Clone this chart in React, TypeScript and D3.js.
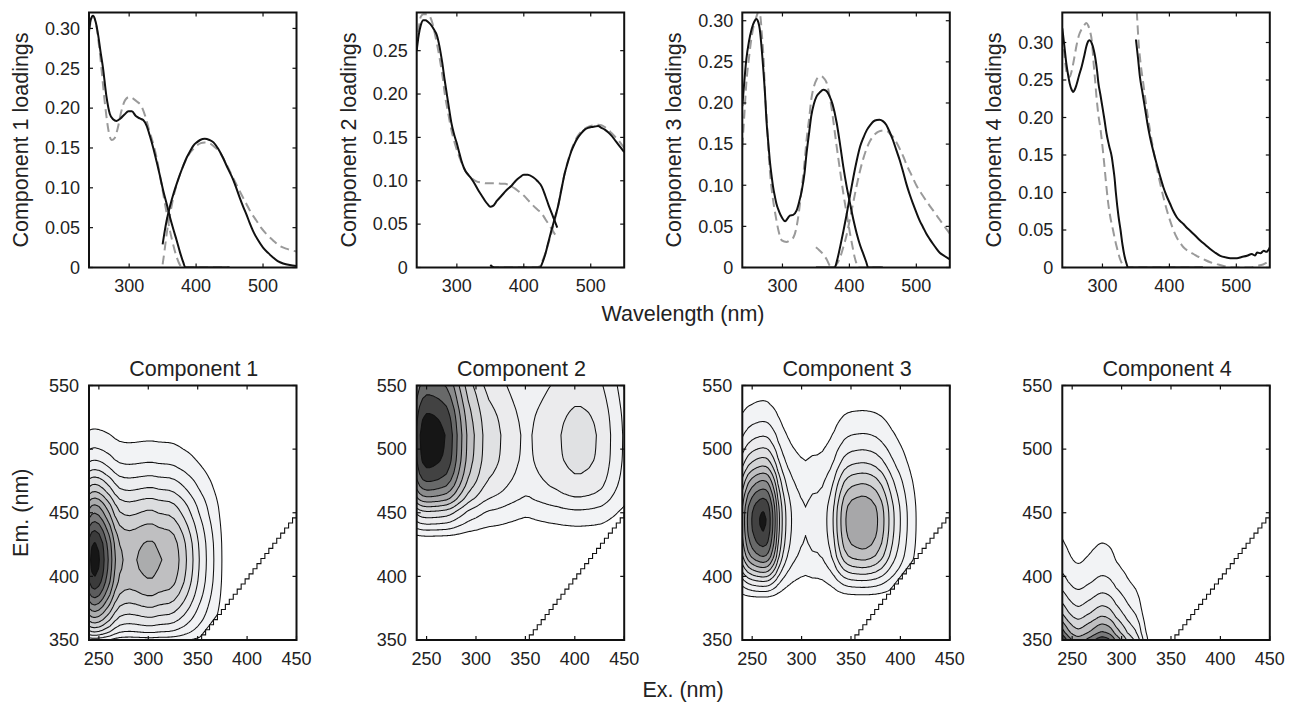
import React from 'react';
import * as d3 from 'd3';

type Pt = [number, number];

// ---------- Top row: loadings (solid = model, dashed = comparison) ----------
const ex1Solid: Pt[] = [[240,0.298],[243,0.312],[246,0.316],[250,0.308],[254,0.29],[257,0.272],[261,0.25],[266,0.215],[271,0.193],[276,0.186],[281,0.184],[287,0.187],[293,0.192],[299,0.196],[304,0.196],[310,0.19],[316,0.187],[321,0.185],[326,0.178],[331,0.165],[336,0.15],[341,0.133],[346,0.115],[351,0.096],[356,0.08],[361,0.063],[366,0.048],[371,0.034],[376,0.019],[381,0.006],[384,0],[450,0]];
const ex1Dash: Pt[] = [[240,0.295],[243,0.31],[246,0.316],[250,0.308],[254,0.285],[258,0.255],[262,0.22],[266,0.19],[270,0.168],[274,0.16],[278,0.162],[283,0.175],[288,0.195],[294,0.21],[300,0.214],[306,0.212],[312,0.208],[318,0.203],[324,0.19],[330,0.172],[336,0.155],[341,0.138],[346,0.115],[351,0.092],[356,0.068],[361,0.046],[366,0.028],[371,0.013],[376,0.003],[379,0],[450,0]];
const em1Solid: Pt[] = [[350,0.029],[353,0.045],[356,0.059],[361,0.077],[366,0.092],[371,0.105],[376,0.117],[381,0.128],[386,0.138],[391,0.146],[396,0.153],[401,0.157],[406,0.16],[413,0.1616],[420,0.16],[426,0.157],[433,0.149],[440,0.138],[447,0.125],[455,0.111],[460,0.1],[465,0.088],[470,0.077],[475,0.067],[480,0.056],[485,0.046],[492,0.035],[500,0.025],[508,0.018],[515,0.0126],[522,0.008],[530,0.005],[540,0.003],[550,0.002]];
const em1Dash: Pt[] = [[350,0.004],[353,0.022],[356,0.042],[361,0.066],[366,0.088],[371,0.104],[376,0.117],[381,0.128],[386,0.137],[391,0.144],[396,0.149],[401,0.153],[407,0.156],[413,0.157],[420,0.156],[428,0.151],[435,0.145],[445,0.13],[455,0.113],[465,0.096],[475,0.08],[482,0.069],[490,0.059],[497,0.05],[505,0.042],[515,0.034],[525,0.027],[537,0.023],[550,0.02]];

const ex2Solid: Pt[] = [[240,0.25],[243,0.268],[246,0.279],[250,0.285],[253,0.285],[257,0.283],[262,0.279],[266,0.274],[270,0.268],[274,0.255],[278,0.237],[282,0.215],[285,0.2],[289,0.18],[292,0.166],[296,0.153],[300,0.143],[304,0.131],[308,0.12],[313,0.111],[318,0.106],[322,0.102],[327,0.096],[332,0.089],[337,0.083],[342,0.077],[346,0.073],[350,0.07],[354,0.071],[360,0.077],[367,0.083],[374,0.089],[382,0.0945],[388,0.1],[394,0.104],[400,0.107],[406,0.107],[414,0.104],[420,0.1],[427,0.093],[432,0.083],[437,0.072],[442,0.062],[446,0.054],[450,0.046]];
const ex2Dash: Pt[] = [[240,0.255],[243,0.275],[246,0.289],[250,0.292],[255,0.292],[259,0.29],[263,0.283],[267,0.27],[271,0.255],[275,0.238],[279,0.218],[282,0.2],[287,0.178],[292,0.158],[297,0.143],[302,0.131],[307,0.121],[312,0.112],[317,0.107],[322,0.103],[330,0.099],[337,0.098],[345,0.097],[352,0.097],[360,0.097],[367,0.0965],[372,0.0965],[380,0.094],[387,0.091],[392,0.088],[400,0.083],[406,0.078],[412,0.073],[420,0.067],[427,0.062],[432,0.056],[437,0.05],[442,0.044],[446,0.039],[450,0.034]];
const em2Solid: Pt[] = [[350,0.003],[353,0.001],[356,0],[424,0],[428,0.006],[432,0.015],[436,0.027],[441,0.042],[446,0.056],[451,0.07],[456,0.089],[461,0.108],[466,0.122],[471,0.134],[476,0.143],[481,0.15],[486,0.155],[491,0.159],[496,0.161],[501,0.162],[506,0.1625],[511,0.163],[516,0.161],[521,0.159],[526,0.156],[531,0.152],[536,0.147],[541,0.142],[546,0.137],[550,0.133]];
const em2Dash: Pt[] = [[350,0.002],[355,0],[421,0],[426,0.005],[432,0.016],[436,0.026],[441,0.039],[446,0.054],[451,0.07],[456,0.09],[461,0.108],[466,0.123],[471,0.135],[476,0.145],[481,0.152],[486,0.157],[491,0.16],[496,0.162],[501,0.1635],[506,0.164],[511,0.1645],[516,0.164],[521,0.162],[526,0.159],[531,0.155],[536,0.151],[541,0.147],[546,0.142],[550,0.138]];

const ex3Solid: Pt[] = [[240,0.196],[243,0.226],[246,0.253],[250,0.275],[254,0.29],[258,0.299],[261,0.302],[264,0.298],[266,0.29],[268,0.275],[271,0.245],[274,0.21],[276,0.18],[279,0.15],[281,0.131],[284,0.11],[286,0.098],[289,0.085],[291,0.0776],[295,0.068],[299,0.061],[304,0.0563],[308,0.06],[311,0.063],[316,0.064],[321,0.069],[325,0.08],[329,0.094],[333,0.115],[336,0.139],[340,0.165],[343,0.184],[347,0.199],[351,0.208],[356,0.213],[361,0.216],[365,0.215],[370,0.209],[375,0.198],[381,0.176],[386,0.15],[391,0.122],[396,0.098],[401,0.0776],[406,0.058],[411,0.041],[416,0.027],[421,0.016],[425,0.007],[428,0],[450,0]];
const ex3Dash: Pt[] = [[240,0.147],[243,0.185],[246,0.224],[250,0.255],[253,0.275],[256,0.29],[260,0.302],[264,0.31],[267,0.305],[269,0.286],[272,0.25],[274,0.212],[277,0.175],[279,0.143],[282,0.11],[286,0.082],[290,0.062],[294,0.045],[299,0.033],[306,0.031],[311,0.033],[316,0.036],[321,0.049],[325,0.07],[329,0.098],[333,0.128],[336,0.155],[340,0.182],[343,0.204],[347,0.22],[351,0.2286],[355,0.232],[358,0.2327],[362,0.23],[366,0.2245],[370,0.21],[373,0.196],[377,0.172],[381,0.147],[386,0.118],[391,0.0898],[396,0.065],[401,0.041],[405,0.024],[408,0.012],[411,0.004],[413,0],[450,0]];
const em3Solid: Pt[] = [[350,0],[378,0],[382,0.01],[386,0.0245],[391,0.044],[396,0.065],[401,0.088],[406,0.11],[411,0.13],[416,0.147],[421,0.158],[426,0.167],[431,0.173],[436,0.1776],[441,0.1793],[445,0.1796],[450,0.178],[455,0.1735],[460,0.165],[465,0.155],[470,0.143],[475,0.131],[480,0.117],[485,0.102],[490,0.089],[495,0.0776],[500,0.067],[505,0.057],[510,0.049],[515,0.041],[520,0.0345],[525,0.0286],[530,0.023],[535,0.018],[542,0.014],[550,0.01]];
const em3Dash: Pt[] = [[350,0.0245],[355,0.021],[361,0.016],[366,0.01],[371,0.002],[376,0],[381,0.004],[386,0.012],[391,0.025],[396,0.04],[401,0.06],[406,0.08],[411,0.1],[416,0.118],[421,0.133],[426,0.145],[431,0.154],[436,0.16],[441,0.164],[446,0.166],[451,0.1665],[456,0.166],[461,0.162],[466,0.158],[471,0.151],[476,0.143],[481,0.134],[486,0.124],[493,0.112],[500,0.1],[510,0.087],[520,0.075],[528,0.066],[535,0.058],[542,0.05],[550,0.041]];

const ex4Solid: Pt[] = [[240,0.319],[243,0.296],[246,0.272],[249,0.255],[251,0.2455],[254,0.237],[256,0.234],[258,0.236],[261,0.243],[265,0.256],[269,0.268],[273,0.283],[276,0.295],[279,0.302],[281,0.303],[284,0.299],[287,0.29],[289,0.281],[292,0.262],[294,0.2455],[297,0.23],[299,0.219],[303,0.197],[306,0.179],[310,0.162],[314,0.147],[316,0.134],[318,0.12],[320,0.1],[324,0.068],[327,0.05],[330,0.03],[333,0.015],[336,0.005],[338,0],[450,0]];
const ex4Dash: Pt[] = [[240,0.31],[243,0.285],[246,0.262],[248,0.255],[251,0.254],[254,0.262],[258,0.28],[261,0.295],[265,0.31],[269,0.318],[272,0.322],[276,0.326],[279,0.322],[282,0.313],[284,0.303],[287,0.27],[289,0.25],[291,0.228],[294,0.203],[297,0.185],[299,0.17],[302,0.144],[306,0.107],[308,0.09],[311,0.071],[316,0.049],[319,0.036],[322,0.025],[326,0.012],[330,0.004],[333,0],[450,0]];
const em4Solid: Pt[] = [[350,0.304],[353,0.28],[356,0.254],[360,0.232],[364,0.21],[367,0.193],[371,0.174],[376,0.155],[381,0.138],[386,0.122],[391,0.107],[396,0.095],[401,0.085],[406,0.075],[411,0.067],[416,0.062],[421,0.058],[426,0.053],[431,0.049],[438,0.043],[446,0.036],[454,0.03],[461,0.0246],[468,0.02],[476,0.0156],[484,0.0135],[491,0.0125],[501,0.0125],[508,0.014],[516,0.0156],[523,0.018],[528,0.016],[531,0.02],[536,0.019],[541,0.0223],[545,0.021],[550,0.0268]];
const em4Dash: Pt[] = [[350,0.36],[352,0.33],[354,0.3],[357,0.272],[361,0.2455],[366,0.212],[371,0.183],[376,0.157],[381,0.134],[386,0.113],[391,0.094],[396,0.077],[401,0.0625],[406,0.05],[411,0.04],[416,0.033],[421,0.027],[428,0.022],[436,0.018],[444,0.014],[451,0.011],[461,0.007],[471,0.0045],[481,0.002],[491,0],[520,0],[530,0.002],[540,0.004],[550,0.009]];

// ---------- axes / labels ----------
const topYMax = [0.32, 0.294, 0.31, 0.34];
const topYTicks = [
  [0, 0.05, 0.1, 0.15, 0.2, 0.25, 0.3],
  [0, 0.05, 0.1, 0.15, 0.2, 0.25],
  [0, 0.05, 0.1, 0.15, 0.2, 0.25, 0.3],
  [0, 0.05, 0.1, 0.15, 0.2, 0.25, 0.3],
];
const topXTicks = [300, 400, 500];
const botXTicks = [250, 300, 350, 400, 450];
const botYTicks = [350, 400, 450, 500, 550];
const loadingLabels = ['Component 1 loadings', 'Component 2 loadings', 'Component 3 loadings', 'Component 4 loadings'];
const titles = ['Component 1', 'Component 2', 'Component 3', 'Component 4'];

// contour levels (product of excitation and emission loadings)
const c1Levels = [0.0038, 0.0076, 0.0114, 0.0152, 0.019, 0.0228, 0.0266, 0.0304, 0.0342, 0.038, 0.0418, 0.0456, 0.0494];
const c2Levels = [0.004, 0.008, 0.012, 0.016, 0.02, 0.024, 0.028, 0.032, 0.036, 0.04, 0.044];
const c3Levels = [0.0049, 0.0098, 0.0147, 0.0196, 0.0245, 0.0294, 0.0343, 0.0392, 0.0441, 0.049, 0.0535];
const c4Levels = [0.016, 0.026, 0.036, 0.046, 0.056, 0.066, 0.076, 0.086, 0.095];

const components = [
  { exS: ex1Solid, exD: ex1Dash, emS: em1Solid, emD: em1Dash, levels: c1Levels },
  { exS: ex2Solid, exD: ex2Dash, emS: em2Solid, emD: em2Dash, levels: c2Levels },
  { exS: ex3Solid, exD: ex3Dash, emS: em3Solid, emD: em3Dash, levels: c3Levels },
  { exS: ex4Solid, exD: ex4Dash, emS: em4Solid, emD: em4Dash, levels: c4Levels },
];

// ---------- layout ----------
const W = 1297, H = 704;
const lefts = [89, 416.7, 742.3, 1062.3];
const PW = 207.5;
const TOP0 = 12.5, TOP1 = 267.5;
const BOT0 = 385.5, BOT1 = 640;
const FONT = '"Liberation Sans", Arial, Helvetica, sans-serif';
const TXT = '#222';
const TICK = 4;

const EX0 = 240, EX1 = 450, EM0 = 350, EM1 = 550;
const RAYLEIGH_STEP = 4;

function interp(pts: Pt[], x: number): number {
  if (x <= pts[0][0]) return pts[0][1];
  if (x >= pts[pts.length - 1][0]) return pts[pts.length - 1][1];
  const i = d3.bisector((p: Pt) => p[0]).right(pts, x);
  const a = pts[i - 1], b = pts[i];
  const t = (x - a[0]) / (b[0] - a[0]);
  return a[1] + t * (b[1] - a[1]);
}

const fmtTick = (v: number) => (v === 0 ? '0' : d3.format('.2f')(v));

function TopPanel({ idx }: { idx: number }) {
  const c = components[idx];
  const x0 = lefts[idx];
  const xs = d3.scaleLinear().domain([240, 550]).range([x0, x0 + PW]);
  const ys = d3.scaleLinear().domain([0, topYMax[idx]]).range([TOP1, TOP0]);
  const line = d3.line<Pt>().x(d => xs(d[0])).y(d => ys(d[1])).curve(d3.curveMonotoneX);
  const clipId = `tclip${idx}`;
  const cy = (TOP0 + TOP1) / 2;
  return (
    <g>
      <defs>
        <clipPath id={clipId}><rect x={x0} y={TOP0} width={PW} height={TOP1 - TOP0} /></clipPath>
      </defs>
      <g clipPath={`url(#${clipId})`} fill="none" strokeLinejoin="round">
        <path d={line(c.exD) || ''} stroke="#9a9a9a" strokeWidth={2} strokeDasharray="9,5" />
        <path d={line(c.emD) || ''} stroke="#9a9a9a" strokeWidth={2} strokeDasharray="9,5" />
        <path d={line(c.exS) || ''} stroke="#111" strokeWidth={2} />
        <path d={line(c.emS) || ''} stroke="#111" strokeWidth={2} />
      </g>
      <rect x={x0} y={TOP0} width={PW} height={TOP1 - TOP0} fill="none" stroke="#111" strokeWidth={2} />
      {topXTicks.map(t => (
        <g key={'x' + t}>
          <line x1={xs(t)} x2={xs(t)} y1={TOP1} y2={TOP1 - TICK} stroke="#111" strokeWidth={1.2} />
          <line x1={xs(t)} x2={xs(t)} y1={TOP0} y2={TOP0 + TICK} stroke="#111" strokeWidth={1.2} />
          <text x={xs(t)} y={TOP1 + 24} textAnchor="middle" fontSize={18} fill={TXT} fontFamily={FONT}>{t}</text>
        </g>
      ))}
      {topYTicks[idx].map(t => (
        <g key={'y' + t}>
          <line x1={x0} x2={x0 + TICK} y1={ys(t)} y2={ys(t)} stroke="#111" strokeWidth={1.2} />
          <line x1={x0 + PW} x2={x0 + PW - TICK} y1={ys(t)} y2={ys(t)} stroke="#111" strokeWidth={1.2} />
          <text x={x0 - 9} y={ys(t)} dy="0.35em" textAnchor="end" fontSize={18} fill={TXT} fontFamily={FONT}>{fmtTick(t)}</text>
        </g>
      ))}
      <text transform={`translate(${x0 - 61},${cy}) rotate(-90)`} textAnchor="middle" fontSize={21.5} fill={TXT} fontFamily={FONT}>{loadingLabels[idx]}</text>
    </g>
  );
}

function BottomPanel({ idx }: { idx: number }) {
  const c = components[idx];
  const x0 = lefts[idx];
  const xs = d3.scaleLinear().domain([EX0, EX1]).range([x0, x0 + PW]);
  const ys = d3.scaleLinear().domain([EM0, EM1]).range([BOT1, BOT0]);
  const n = EX1 - EX0 + 1, m = EM1 - EM0 + 1;
  const exV = d3.range(n).map(i => interp(c.exS, EX0 + i));
  const emV = d3.range(m).map(j => interp(c.emS, EM0 + j));
  const values: number[] = new Array(n * m);
  for (let j = 0; j < m; j++) {
    for (let i = 0; i < n; i++) {
      const ex = EX0 + i, em = EM0 + j;
      values[j * n + i] = em < ex ? 0 : exV[i] * emV[j];
    }
  }
  const contours = d3.contours().size([n, m]).thresholds(c.levels)(values);
  const proj = d3.geoTransform({
    point(this: any, x: number, y: number) {
      this.stream.point(xs(EX0 + x - 0.5), ys(EM0 + y - 0.5));
    },
  });
  const path = d3.geoPath(proj);
  const N = c.levels.length;
  const gray = (k: number) => {
    const t = N > 1 ? k / (N - 1) : 0;
    return d3.interpolateRgb('#f2f3f5', '#161616')(Math.pow(t, 2.1));
  };
  const stairs = d3.range(350, 450, RAYLEIGH_STEP).concat([450]).map(v => [v, v] as Pt);
  const stairLine = d3.line<Pt>().x(d => xs(d[0])).y(d => ys(d[1])).curve(d3.curveStepAfter);
  const clipId = `bclip${idx}`;
  const cx = x0 + PW / 2;
  return (
    <g>
      <defs>
        <clipPath id={clipId}><rect x={x0} y={BOT0} width={PW} height={BOT1 - BOT0} /></clipPath>
      </defs>
      <g clipPath={`url(#${clipId})`}>
        {contours.map((ct, k) => (
          <path key={k} d={path(ct as any) || ''} fill={gray(k)} stroke="#111" strokeWidth={1.05} strokeLinejoin="round" />
        ))}
        <path d={stairLine(stairs) || ''} fill="none" stroke="#111" strokeWidth={1.1} />
      </g>
      <rect x={x0} y={BOT0} width={PW} height={BOT1 - BOT0} fill="none" stroke="#111" strokeWidth={2} />
      {botXTicks.map(t => (
        <g key={'x' + t}>
          <line x1={xs(t)} x2={xs(t)} y1={BOT1} y2={BOT1 - TICK} stroke="#111" strokeWidth={1.2} />
          <line x1={xs(t)} x2={xs(t)} y1={BOT0} y2={BOT0 + TICK} stroke="#111" strokeWidth={1.2} />
          <text x={xs(t)} y={BOT1 + 25} textAnchor="middle" fontSize={18} fill={TXT} fontFamily={FONT}>{t}</text>
        </g>
      ))}
      {botYTicks.map(t => (
        <g key={'y' + t}>
          <line x1={x0} x2={x0 + TICK} y1={ys(t)} y2={ys(t)} stroke="#111" strokeWidth={1.2} />
          <line x1={x0 + PW} x2={x0 + PW - TICK} y1={ys(t)} y2={ys(t)} stroke="#111" strokeWidth={1.2} />
          <text x={x0 - 10} y={ys(t)} dy="0.35em" textAnchor="end" fontSize={18} fill={TXT} fontFamily={FONT}>{t}</text>
        </g>
      ))}
      <text x={cx + 1} y={375.5} textAnchor="middle" fontSize={21.5} fill={TXT} fontFamily={FONT}>{titles[idx]}</text>
    </g>
  );
}

export default function App() {
  return (
    <svg width={W} height={H} viewBox={`0 0 ${W} ${H}`} style={{ position: 'absolute', left: 0, top: 0, background: '#fff' }}>
      <rect x={0} y={0} width={W} height={H} fill="#fff" />
      {[0, 1, 2, 3].map(i => <TopPanel key={'t' + i} idx={i} />)}
      {[0, 1, 2, 3].map(i => <BottomPanel key={'b' + i} idx={i} />)}
      <text x={683} y={320.5} textAnchor="middle" fontSize={21.5} fill={TXT} fontFamily={FONT}>Wavelength (nm)</text>
      <text x={683} y={697} textAnchor="middle" fontSize={21.5} fill={TXT} fontFamily={FONT}>Ex. (nm)</text>
      <text transform={`translate(${lefts[0] - 61},${(BOT0 + BOT1) / 2}) rotate(-90)`} textAnchor="middle" fontSize={21.5} fill={TXT} fontFamily={FONT}>Em. (nm)</text>
    </svg>
  );
}
